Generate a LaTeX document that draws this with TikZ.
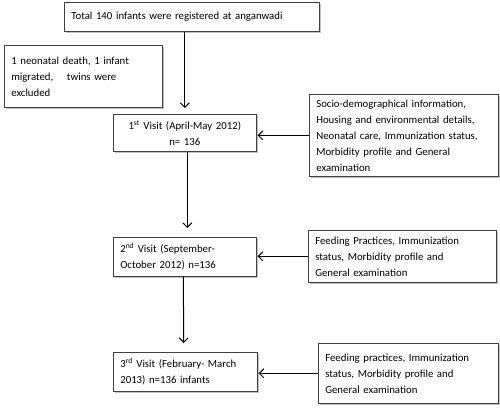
\documentclass[tikz,border=0pt]{standalone}
\usepackage{fontspec}
\setmainfont{Carlito}
\usetikzlibrary{arrows.meta,shadows}
\tikzset{
  box/.style={draw=black!75, line width=0.6pt, fill=white, inner xsep=7pt, inner ysep=3pt,
    anchor=north west, align=left, font=\fontsize{10.8}{16}\selectfont,
    drop shadow={shadow xshift=1.2pt, shadow yshift=-1.2pt, fill=black!40, opacity=0.6}},
  arr/.style={-{Straight Barb[length=4.5pt,width=9pt]}, line width=1pt},
}
\begin{document}
\begin{tikzpicture}[x=1pt,y=-1pt]
\useasboundingbox (0,0) rectangle (500,413);
% boxes, placed at their top left corners
\node[box, text width=241pt, minimum height=29pt] (Tot) at (64,2)
  {Total 140 infants were registered at anganwadi};
\node[box, text width=144pt, minimum height=62pt] (Exc) at (4,45)
  {1 neonatal death, 1 infant\\ migrated,\hspace{10pt} twins were\\ excluded};
\node[box, text width=129pt, minimum height=37pt, align=center] (V1) at (113,114)
  {1\textsuperscript{st} Visit (April-May 2012)\\ n= 136};
\node[box, text width=129pt, minimum height=39pt] (V2) at (113,237)
  {2\textsuperscript{nd} Visit (September-\\ October 2012) n=136};
\node[box, text width=130pt, minimum height=39pt] (V3) at (113,352)
  {3\textsuperscript{rd} Visit (February- March\\ 2013) n=136 infants};
\node[box, text width=175pt, minimum height=82pt] (D1) at (309,94)
  {Socio-demographical information,\\ Housing and environmental details,\\
   Neonatal care, Immunization status,\\ Morbidity profile and General\\ examination};
\node[box, text width=174pt, minimum height=52pt] (D2) at (308,230)
  {Feeding Practices, Immunization\\ status, Morbidity profile and\\ General examination};
\node[box, text width=166pt, minimum height=60pt] (D3) at (318,343)
  {Feeding practices, Immunization\\ status, Morbidity profile and\\ General examination};
% arrows
\draw[arr, shorten >=6pt] (V1.north |- Tot.south) -- (V1.north);
\foreach \a/\b/\s in {1/2/2.5pt,2/3/-1.5pt} {
  \draw[arr, shorten >=9pt] ([xshift=\s]V\a.south) -- ([xshift=\s]V\b.north);
}
\foreach \i in {1,2,3} {
  \draw[arr, shorten >=1pt] (D\i.west) -- (D\i.west -| V\i.east);
}
\end{tikzpicture}
\end{document}
